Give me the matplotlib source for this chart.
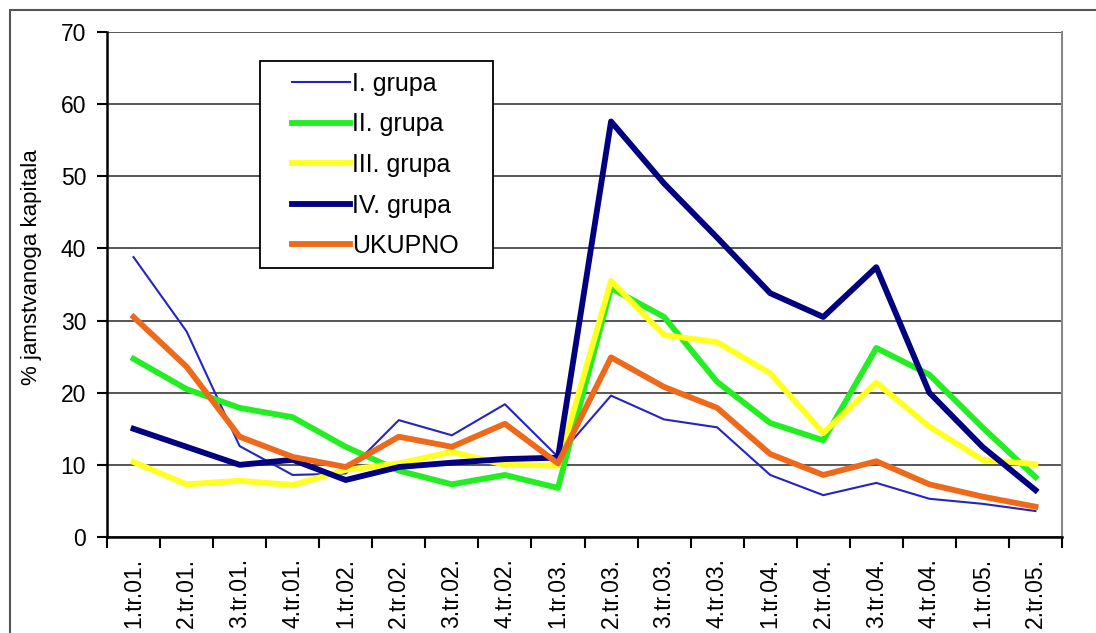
import numpy as np
import matplotlib.pyplot as plt
from matplotlib.patches import Rectangle

plt.rcParams['font.family'] = ['Liberation Sans', 'DejaVu Sans']

quarters = ['1.tr.01.', '2.tr.01.', '3.tr.01.', '4.tr.01.',
            '1.tr.02.', '2.tr.02.', '3.tr.02.', '4.tr.02.',
            '1.tr.03.', '2.tr.03.', '3.tr.03.', '4.tr.03.',
            '1.tr.04.', '2.tr.04.', '3.tr.04.', '4.tr.04.',
            '1.tr.05.', '2.tr.05.']

grupa_1 = [38.8, 28.5, 12.6, 8.6, 8.8, 16.2, 14.1, 18.4, 11.1,
           19.6, 16.3, 15.2, 8.6, 5.8, 7.5, 5.3, 4.6, 3.6]
grupa_2 = [24.7, 20.5, 17.9, 16.6, 12.5, 9.2, 7.3, 8.6, 6.8,
           34.5, 30.5, 21.5, 15.8, 13.4, 26.2, 22.5, 15.2, 8.3]
grupa_3 = [10.4, 7.3, 7.8, 7.2, 9.3, 10.2, 11.8, 10.0, 9.9,
           35.5, 28.0, 27.0, 22.7, 14.4, 21.4, 15.3, 10.7, 10.1]
grupa_4 = [15.0, 12.5, 10.0, 10.7, 7.9, 9.7, 10.3, 10.8, 11.0,
           57.6, 49.0, 41.5, 33.8, 30.5, 37.4, 20.0, 12.5, 6.5]
ukupno = [30.5, 23.6, 13.9, 11.1, 9.7, 13.9, 12.5, 15.7, 10.2,
          24.9, 20.8, 17.9, 11.5, 8.6, 10.5, 7.3, 5.6, 4.2]

x = np.arange(len(quarters))

W, H = 1096, 633
fig = plt.figure(figsize=(W / 100, H / 100), dpi=100)
ax = fig.add_axes([107 / W, 1 - 537 / H, 955 / W, 505 / H])

# outer frame of the whole chart
fig.patches.append(Rectangle((10 / W, -0.1), 1.2, 1.1 - 10 / H,
                             transform=fig.transFigure, fill=False,
                             edgecolor='#555555', linewidth=1.5))

ax.plot(x, grupa_1, color='#2424c0', lw=1.5, label='I. grupa')
ax.plot(x, grupa_2, color='#22ee22', lw=4.2, label='II. grupa')
ax.plot(x, grupa_3, color='#ffff22', lw=4.2, label='III. grupa')
ax.plot(x, grupa_4, color='#000080', lw=4.2, label='IV. grupa')
ax.plot(x, ukupno, color='#ee6a1a', lw=4.2, label='UKUPNO')

ax.set_xlim(-0.5, len(quarters) - 0.5)
ax.set_ylim(0, 70)
ax.set_yticks(range(0, 71, 10))
ax.yaxis.grid(True, color='#3a3a3a', lw=1.2)
ax.set_axisbelow(True)

ax.set_xticks(np.arange(-0.5, len(quarters), 1.0))
ax.set_xticklabels([])
ax.set_xticks(x, minor=True)
ax.set_xticklabels(quarters, minor=True, rotation=90, fontsize=16.5)
ax.tick_params(axis='x', which='minor', length=0, pad=15)
ax.tick_params(axis='x', which='major', length=8, width=1.5, direction='out')
ax.tick_params(axis='y', length=7, width=1.5, labelsize=16.5, pad=8)

for lbl in ax.get_xticklabels(minor=True):
    lbl.set_verticalalignment('top')

ax.spines['left'].set_linewidth(1.8)
ax.spines['bottom'].set_linewidth(1.8)
ax.spines['top'].set_visible(False)
ax.spines['right'].set_color('#888888')
ax.spines['right'].set_linewidth(1.5)

ax.set_ylabel('% jamstvanoga kapitala', fontsize=16)
ax.yaxis.set_label_coords(-65 / 955, 0.535)

# legend box drawn separately so the padding matches the original
ax.add_patch(Rectangle(((260 - 107) / 955, (537 - 268) / 505), 233 / 955, 207 / 505,
                       transform=ax.transAxes, facecolor='white',
                       edgecolor='black', linewidth=1.3, zorder=4))
leg = ax.legend(loc='upper left', bbox_to_anchor=((292 - 107) / 955, (537 - 72) / 505),
                borderaxespad=0, borderpad=0, fontsize=18, handlelength=2.3,
                labelspacing=0.66, handletextpad=0.1, frameon=False)
leg.set_zorder(5)

fig.savefig('out.png', dpi=100)
